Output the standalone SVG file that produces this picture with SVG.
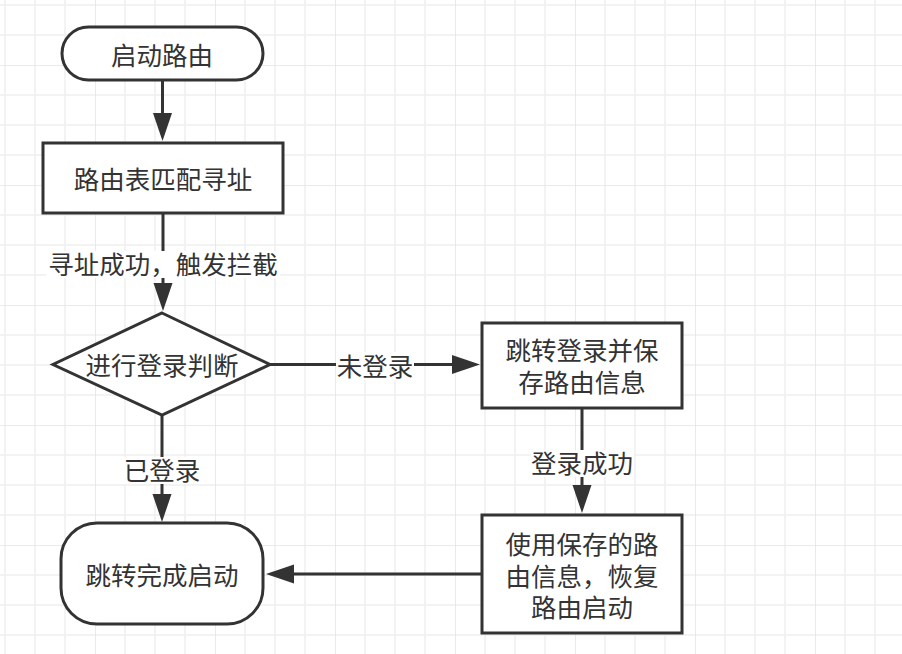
<svg xmlns="http://www.w3.org/2000/svg" width="902" height="654" viewBox="0 0 902 654">
<style>
.node{fill:#ffffff;stroke:#333333;stroke-width:3}
.conn{fill:none;stroke:#333333;stroke-width:3}
text{font-family:"Noto Sans CJK SC","Noto Sans",sans-serif;font-size:25.5px;fill:#333333;text-anchor:middle;dominant-baseline:central}
.lblbg{fill:#ffffff}
</style>
<defs>
<pattern id="grid" patternUnits="userSpaceOnUse" x="95" y="65" width="120" height="120">
<path d="M30 0V120M60 0V120M90 0V120M0 30H120M0 60H120M0 90H120" stroke="#efefef" stroke-width="1.5" fill="none"/>
<path d="M0 0V120M0 0H120" stroke="#e3e3e3" stroke-width="1.5" fill="none"/>
</pattern>
<marker id="arr" markerUnits="userSpaceOnUse" markerWidth="30" markerHeight="22" refX="0" refY="10" orient="auto" viewBox="0 0 30 22">
<path d="M0,0.5 L28,10 L0,19.5 z" fill="#333333"/>
</marker>
</defs>
<rect width="902" height="654" fill="#ffffff"/>
<rect width="902" height="654" fill="url(#grid)"/>

<g id="connectors">
<path class="conn" d="M162.5,80 V113" marker-end="url(#arr)"/>
<path class="conn" d="M163,213 V283" marker-end="url(#arr)"/>
<path class="conn" d="M270,364.5 H452" marker-end="url(#arr)"/>
<path class="conn" d="M582,408 V485" marker-end="url(#arr)"/>
<path class="conn" d="M162,415 V494" marker-end="url(#arr)"/>
<path class="conn" d="M482,574 H294" marker-end="url(#arr)"/>
<g id="label-1"><rect class="lblbg" x="46" y="251" width="234" height="27"/><text x="163" y="262">寻址成功，触发拦截</text></g>
<g id="label-2"><rect class="lblbg" x="336" y="352" width="78" height="28"/><text x="375" y="364">未登录</text></g>
<g id="label-3"><rect class="lblbg" x="531" y="450" width="103" height="27"/><text x="582" y="461">登录成功</text></g>
<g id="label-4"><rect class="lblbg" x="124" y="457" width="76" height="27"/><text x="162" y="468">已登录</text></g>
</g>

<g id="start">
<rect class="node" x="62" y="27" width="201" height="53" rx="26.5"/>
<text x="162" y="53">启动路由</text>
</g>
<g id="match">
<rect class="node" x="43" y="143" width="240" height="70"/>
<text x="163" y="177">路由表匹配寻址</text>
</g>
<g id="decide">
<polygon class="node" points="162,313 270,364.5 162,415 53,364.5"/>
<text x="162" y="363">进行登录判断</text>
</g>
<g id="login">
<rect class="node" x="482" y="323" width="200" height="85"/>
<text x="582" y="348">跳转登录并保<tspan x="582" dy="32">存路由信息</tspan></text>
</g>
<g id="restore">
<rect class="node" x="482" y="515" width="200" height="118"/>
<text x="582" y="542">使用保存的路<tspan x="582" dy="31.5">由信息，恢复</tspan><tspan x="582" dy="31.5">路由启动</tspan></text>
</g>
<g id="done">
<rect class="node" x="61" y="523" width="202" height="101" rx="36"/>
<text x="162" y="573">跳转完成启动</text>
</g>
</svg>
